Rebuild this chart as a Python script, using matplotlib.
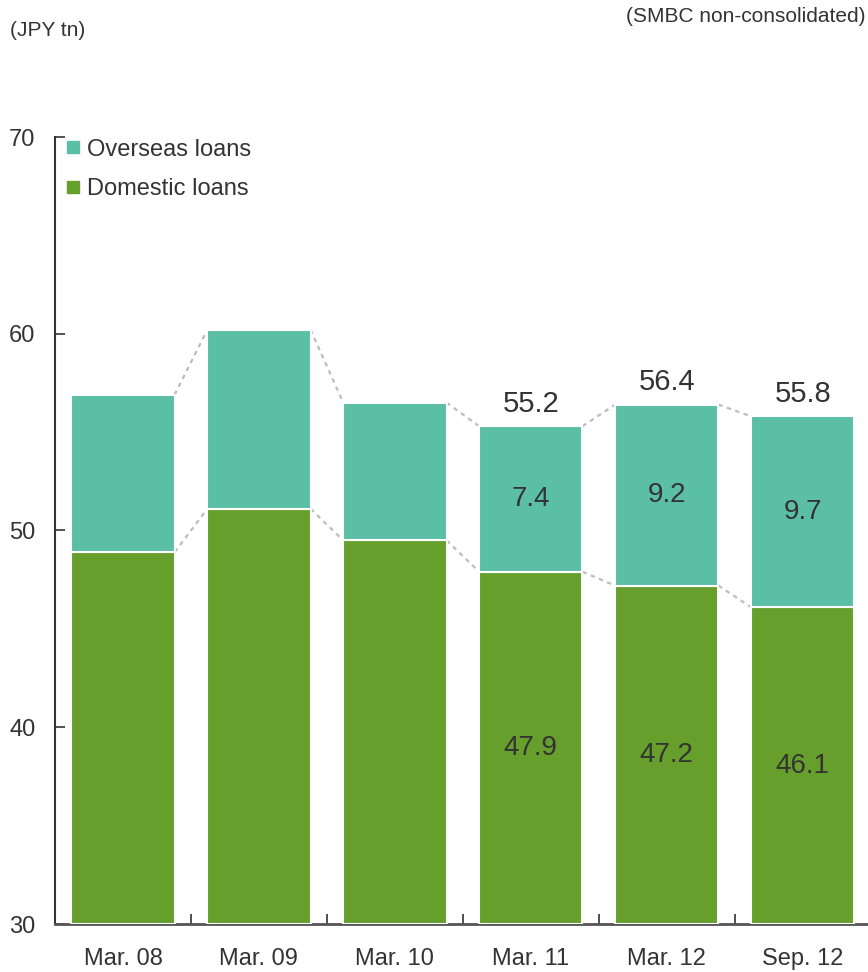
import numpy as np
import matplotlib
matplotlib.use("Agg")
import matplotlib.pyplot as plt
from matplotlib.lines import Line2D

plt.rcParams['font.family'] = ['Liberation Sans', 'DejaVu Sans']

# data (JPY tn)
periods = ["Mar. 08", "Mar. 09", "Mar. 10", "Mar. 11", "Mar. 12", "Sep. 12"]
domestic = [48.9, 51.1, 49.5, 47.9, 47.2, 46.1]
overseas = [8.0, 9.1, 7.0, 7.4, 9.2, 9.7]
total_labels = [None, None, None, "55.2", "56.4", "55.8"]
domestic_labels = [None, None, None, "47.9", "47.2", "46.1"]
overseas_labels = [None, None, None, "7.4", "9.2", "9.7"]

C_OVER = "#5BBFA6"
C_DOM = "#669F2C"
C_TEXT = "#333333"
C_LINK = "#BDBDBD"
BAR_W = 0.76
BASE = 30

fig = plt.figure(figsize=(8.68, 9.72), dpi=100)
ax = fig.add_axes([55 / 868, 48 / 972, 813 / 868, 787 / 972])

x = np.arange(len(periods))
dom = np.array(domestic)
ovr = np.array(overseas)
tot = dom + ovr

ax.bar(x, dom - BASE, bottom=BASE, width=BAR_W, color=C_DOM,
       edgecolor="white", linewidth=1.5, zorder=3)
ax.bar(x, ovr, bottom=dom, width=BAR_W, color=C_OVER,
       edgecolor="white", linewidth=1.5, zorder=3)

# dashed connectors between neighbouring bars
for i in range(len(x) - 1):
    for lvl in (tot, dom):
        ax.plot([x[i] + BAR_W / 2, x[i + 1] - BAR_W / 2], [lvl[i], lvl[i + 1]],
                color=C_LINK, linestyle=(0, (2, 2)), linewidth=1.6, zorder=2)

# value labels
for i in range(len(x)):
    if total_labels[i]:
        ax.annotate(total_labels[i], (x[i], tot[i]), xytext=(0, 6),
                    textcoords="offset points", ha="center", va="bottom",
                    fontsize=21, color=C_TEXT)
    if overseas_labels[i]:
        ax.text(x[i], dom[i] + ovr[i] / 2, overseas_labels[i], ha="center",
                va="center", fontsize=20, color=C_TEXT, zorder=4)
    if domestic_labels[i]:
        ax.text(x[i], (dom[i] + BASE) / 2, domestic_labels[i], ha="center",
                va="center", fontsize=20, color=C_TEXT, zorder=4)

ax.set_xlim(-0.5, 5.48)
ax.set_ylim(30, 70)
ax.set_yticks([30, 40, 50, 60, 70])
ax.tick_params(axis="y", direction="in", length=7, width=1.2, colors="#333333",
               labelsize=17, pad=14)

ax.set_xticks(x[:-1] + 0.5)
ax.set_xticklabels([])
ax.tick_params(axis="x", which="major", direction="in", length=7, width=1.2,
               colors="#333333")
ax.set_xticks(x, minor=True)
ax.set_xticklabels(periods, minor=True)
ax.tick_params(axis="x", which="minor", length=0, labelsize=17, pad=17,
               labelcolor=C_TEXT)

for s in ("top", "right"):
    ax.spines[s].set_visible(False)
ax.spines["left"].set_color("#333333")
ax.spines["left"].set_linewidth(1.5)
ax.spines["bottom"].set_color("#555555")
ax.spines["bottom"].set_linewidth(2)

handles = [
    Line2D([], [], marker="s", linestyle="", markersize=8, color=C_OVER),
    Line2D([], [], marker="s", linestyle="", markersize=8, color=C_DOM),
]
ax.legend(handles, ["Overseas loans", "Domestic loans"], loc="upper left",
          bbox_to_anchor=(-0.013, 1.025), frameon=False, fontsize=17,
          handlelength=0.6, handletextpad=0.3, labelspacing=0.75,
          labelcolor=C_TEXT)

fig.text(10 / 868, 1 - 30 / 972, "(JPY tn)", fontsize=15, color=C_TEXT,
         va="center", ha="left")
fig.text(866 / 868, 1 - 16 / 972, "(SMBC non-consolidated)", fontsize=15,
         color=C_TEXT, va="center", ha="right")

fig.savefig("out.png", dpi=100)
